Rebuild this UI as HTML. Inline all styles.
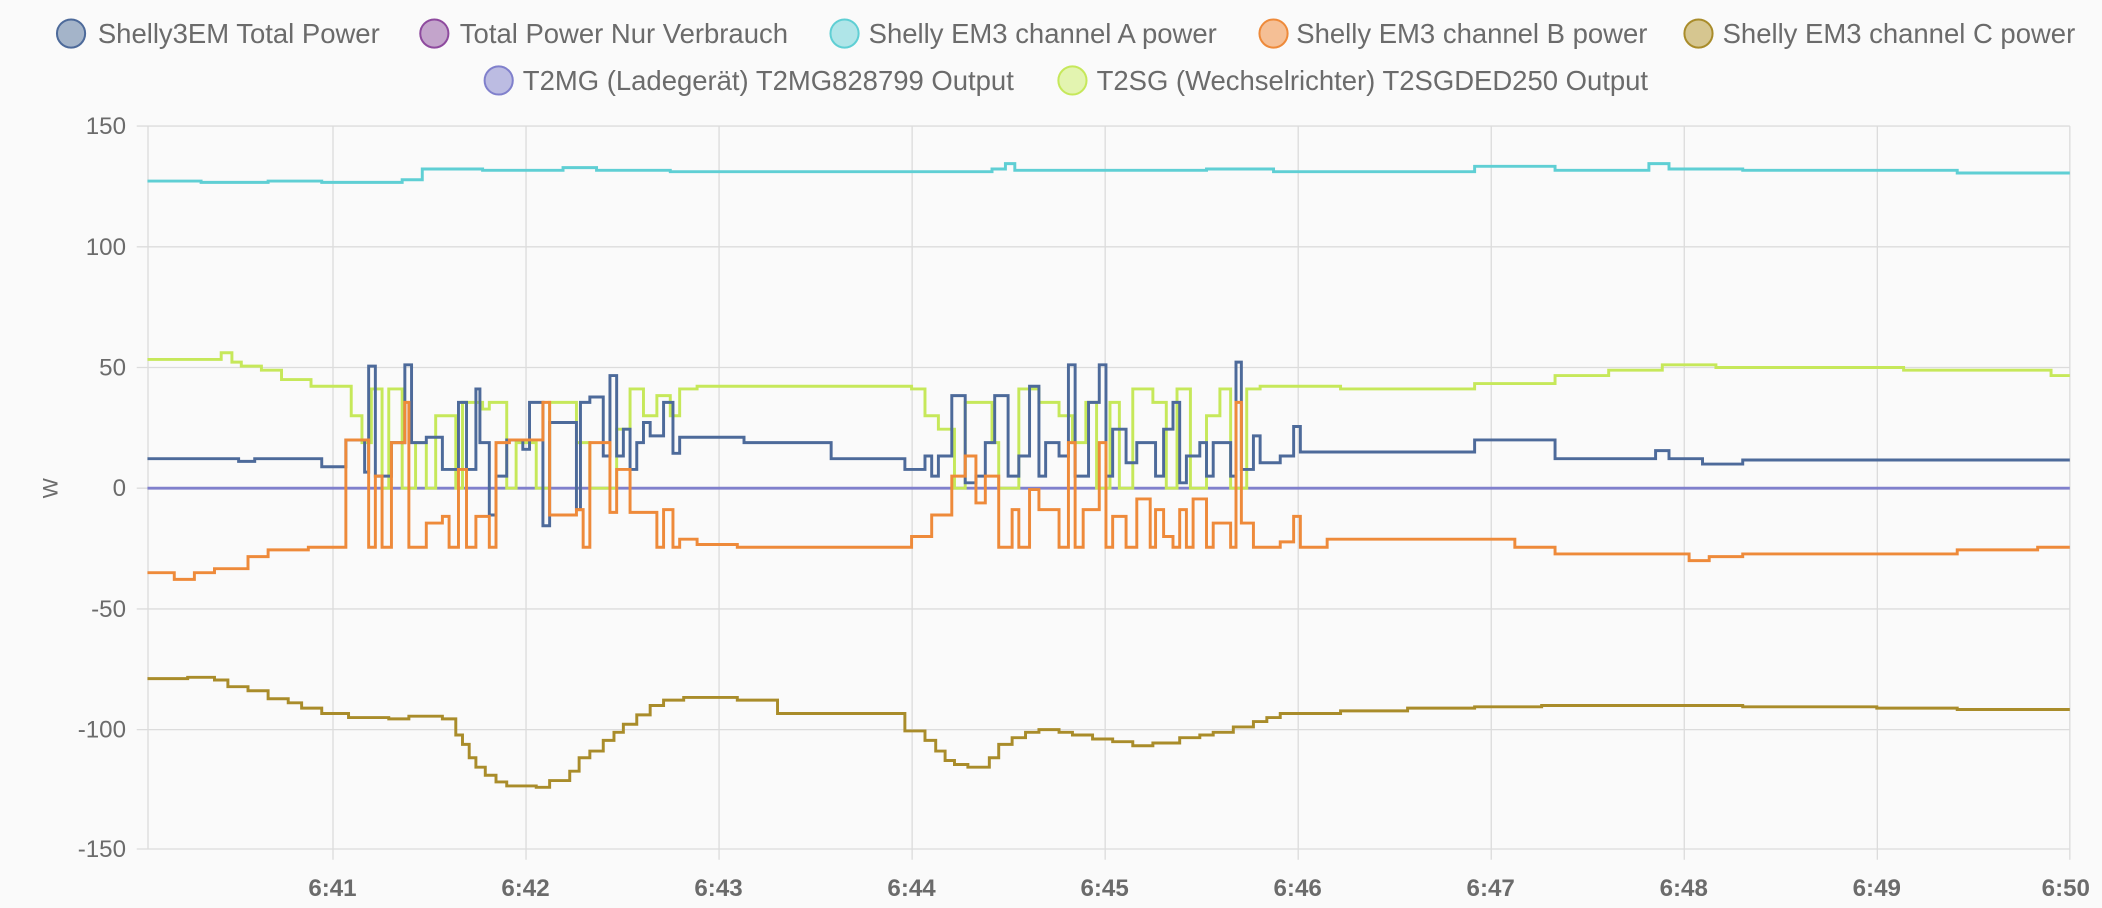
<!DOCTYPE html>
<html><head><meta charset="utf-8"><style>
html,body{margin:0;padding:0;background:#fafafa;}
svg{display:block;}
text{font-family:"Liberation Sans",sans-serif;fill:#6b6b6b;}
</style></head><body>
<svg width="2102" height="908" viewBox="0 0 1568 677" preserveAspectRatio="none" xmlns="http://www.w3.org/2000/svg">
<rect width="1568" height="677" fill="#fafafa"/>
<!-- legend -->
<g font-size="20.5">
<circle cx="53" cy="25" r="10.5" fill="#a4b4c9" stroke="#4d6a9a" stroke-width="1.5"/><text x="73" y="32">Shelly3EM Total Power</text>
<circle cx="324" cy="25" r="10.5" fill="#c3a4cb" stroke="#8e4a9e" stroke-width="1.5"/><text x="343" y="32">Total Power Nur Verbrauch</text>
<circle cx="630" cy="25" r="10.5" fill="#afe5e8" stroke="#5fcfd4" stroke-width="1.5"/><text x="648" y="32">Shelly EM3 channel A power</text>
<circle cx="950" cy="25" r="10.5" fill="#f5bf95" stroke="#ee8a3a" stroke-width="1.5"/><text x="967" y="32">Shelly EM3 channel B power</text>
<circle cx="1267" cy="25" r="10.5" fill="#d6c690" stroke="#a98c2a" stroke-width="1.5"/><text x="1285" y="32">Shelly EM3 channel C power</text>
<circle cx="372" cy="60" r="10.5" fill="#bcbce2" stroke="#8080cc" stroke-width="1.5"/><text x="390" y="67">T2MG (Ladegerät) T2MG828799 Output</text>
<circle cx="800" cy="60" r="10.5" fill="#e3f4b0" stroke="#c6e85a" stroke-width="1.5"/><text x="818" y="67">T2SG (Wechselrichter) T2SGDED250 Output</text>
</g>
<!-- grid -->
<g stroke="#dcdcdc" stroke-width="1">
<line x1="102" y1="94" x2="1544" y2="94"/>
<line x1="102" y1="184" x2="1544" y2="184"/>
<line x1="102" y1="274" x2="1544" y2="274"/>
<line x1="102" y1="364" x2="1544" y2="364"/>
<line x1="102" y1="454" x2="1544" y2="454"/>
<line x1="102" y1="544" x2="1544" y2="544"/>
<line x1="102" y1="633" x2="1544" y2="633"/>
<line x1="110.4" y1="94" x2="110.4" y2="633"/>
<line x1="248.4" y1="94" x2="248.4" y2="641"/>
<line x1="392.4" y1="94" x2="392.4" y2="641"/>
<line x1="536.4" y1="94" x2="536.4" y2="641"/>
<line x1="680.4" y1="94" x2="680.4" y2="641"/>
<line x1="824.4" y1="94" x2="824.4" y2="641"/>
<line x1="968.4" y1="94" x2="968.4" y2="641"/>
<line x1="1112.4" y1="94" x2="1112.4" y2="641"/>
<line x1="1256.4" y1="94" x2="1256.4" y2="641"/>
<line x1="1400.4" y1="94" x2="1400.4" y2="641"/>
<line x1="1544" y1="94" x2="1544" y2="641"/>
</g>
<g font-size="18" text-anchor="end">
<text x="94" y="100">150</text><text x="94" y="190">100</text><text x="94" y="280">50</text>
<text x="94" y="370">0</text><text x="94" y="460">-50</text><text x="94" y="550">-100</text><text x="94" y="639">-150</text>
</g>
<text x="43" y="364" font-size="16" transform="rotate(-90 43 364)" text-anchor="middle">W</text>
<g font-size="18" font-weight="bold" text-anchor="middle">
<text x="248" y="668">6:41</text><text x="392" y="668">6:42</text><text x="536" y="668">6:43</text>
<text x="680" y="668">6:44</text><text x="824" y="668">6:45</text><text x="968" y="668">6:46</text>
<text x="1112" y="668">6:47</text><text x="1256" y="668">6:48</text><text x="1400" y="668">6:49</text><text x="1541" y="668">6:50</text>
</g>
<g fill="none" stroke-width="2.2">
<path stroke="#8080cc" d="M110,364 H1544"/>
<path stroke="#5fcfd4" d="M110,135 H150 V136 H200 V135 H240 V136 H300 V134 H315 V126 H360 V127 H420 V125 H445 V127 H500 V128 H740 V126 H750 V122 H757 V127 H900 V126 H950 V128 H1100 V124 H1160 V127 H1230 V122 H1245 V126 H1300 V127 H1460 V129 H1544"/>
<path stroke="#c6e85a" d="M110,268 H165 V263 H173 V270 H180 V273 H195 V276 H210 V283 H232 V288 H262 V310 H270 V330 H277 V290 H285 V364 H290 V290 H300 V364 H310 V330 H318 V364 H325 V310 H340 V364 H345 V300 H360 V305 H365 V300 H378 V364 H385 V330 H400 V364 H410 V300 H430 V330 H440 V364 H460 V320 H470 V290 H480 V310 H490 V295 H500 V310 H507 V290 H520 V288 H680 V290 H690 V310 H700 V320 H712 V364 H720 V300 H740 V330 H745 V364 H760 V290 H775 V300 H790 V310 H800 V330 H810 V300 H818 V364 H828 V300 H835 V364 H845 V290 H860 V300 H870 V364 H878 V290 H888 V364 H900 V310 H910 V290 H918 V364 H930 V290 H940 V288 H1000 V290 H1100 V286 H1160 V280 H1200 V276 H1240 V272 H1280 V274 H1420 V276 H1530 V280 H1544"/>
<path stroke="#4d6a9a" d="M110,342 H178 V344 H190 V342 H240 V348 H258 V328 H272 V352 H275 V273 H280 V355 H292 V330 H302 V272 H307 V330 H318 V326 H330 V350 H342 V300 H348 V350 H355 V290 H358 V330 H365 V384 H370 V355 H378 V328 H390 V335 H395 V300 H405 V392 H410 V315 H430 V380 H433 V300 H440 V296 H450 V340 H455 V280 H460 V340 H465 V320 H470 V350 H475 V330 H480 V315 H485 V325 H495 V300 H502 V338 H507 V326 H520 V326 H555 V330 H620 V342 H675 V350 H690 V340 H695 V355 H700 V340 H710 V295 H720 V360 H728 V355 H735 V330 H742 V295 H752 V355 H760 V340 H768 V288 H775 V355 H780 V330 H790 V340 H797 V272 H802 V355 H808 V355 H812 V300 H820 V272 H825 V355 H830 V320 H840 V345 H848 V330 H858 V330 H862 V355 H868 V320 H875 V300 H880 V360 H885 V340 H895 V330 H900 V355 H905 V330 H918 V355 H922 V270 H926 V350 H935 V325 H940 V345 H955 V340 H965 V318 H970 V337 H1100 V328 H1160 V342 H1235 V336 H1245 V342 H1270 V346 H1300 V343 H1544"/>
<path stroke="#ee8a3a" d="M110,427 H130 V432 H145 V427 H160 V424 H185 V415 H200 V410 H230 V408 H258 V328 H275 V408 H280 V355 H285 V408 H292 V330 H302 V300 H305 V408 H318 V390 H330 V385 H335 V408 H342 V350 H348 V408 H355 V385 H365 V408 H370 V330 H380 V328 H405 V300 H410 V384 H430 V380 H435 V408 H440 V330 H455 V382 H460 V350 H470 V382 H490 V408 H495 V380 H502 V408 H507 V402 H520 V406 H550 V408 H680 V400 H695 V384 H710 V355 H720 V340 H728 V375 H735 V355 H745 V408 H755 V380 H760 V408 H768 V365 H775 V380 H790 V408 H797 V330 H802 V408 H808 V380 H820 V330 H825 V408 H830 V385 H840 V408 H848 V372 H858 V408 H862 V380 H868 V400 H875 V408 H880 V380 H885 V408 H890 V372 H900 V408 H905 V390 H918 V408 H922 V300 H926 V390 H935 V408 H955 V404 H965 V385 H970 V408 H990 V402 H1130 V408 H1160 V413 H1260 V418 H1275 V415 H1300 V413 H1460 V410 H1520 V408 H1544"/>
<path stroke="#a98c2a" d="M110,506 H140 V505 H160 V507 H170 V512 H185 V515 H200 V521 H215 V524 H225 V528 H240 V532 H260 V535 H290 V536 H305 V534 H330 V536 H340 V548 H345 V555 H350 V565 H355 V572 H362 V578 H370 V583 H378 V586 H400 V587 H410 V582 H425 V575 H432 V565 H440 V560 H450 V552 H458 V546 H465 V540 H475 V533 H485 V526 H495 V522 H510 V520 H550 V522 H580 V532 H675 V545 H690 V552 H698 V560 H705 V567 H712 V570 H722 V572 H738 V565 H745 V555 H755 V550 H765 V546 H775 V544 H790 V546 H800 V548 H815 V551 H830 V553 H845 V556 H860 V554 H880 V550 H895 V548 H905 V546 H920 V542 H935 V538 H945 V535 H955 V532 H1000 V530 H1050 V528 H1100 V527 H1150 V526 H1300 V527 H1400 V528 H1460 V529 H1544"/>
</g>
</svg>
</body></html>
